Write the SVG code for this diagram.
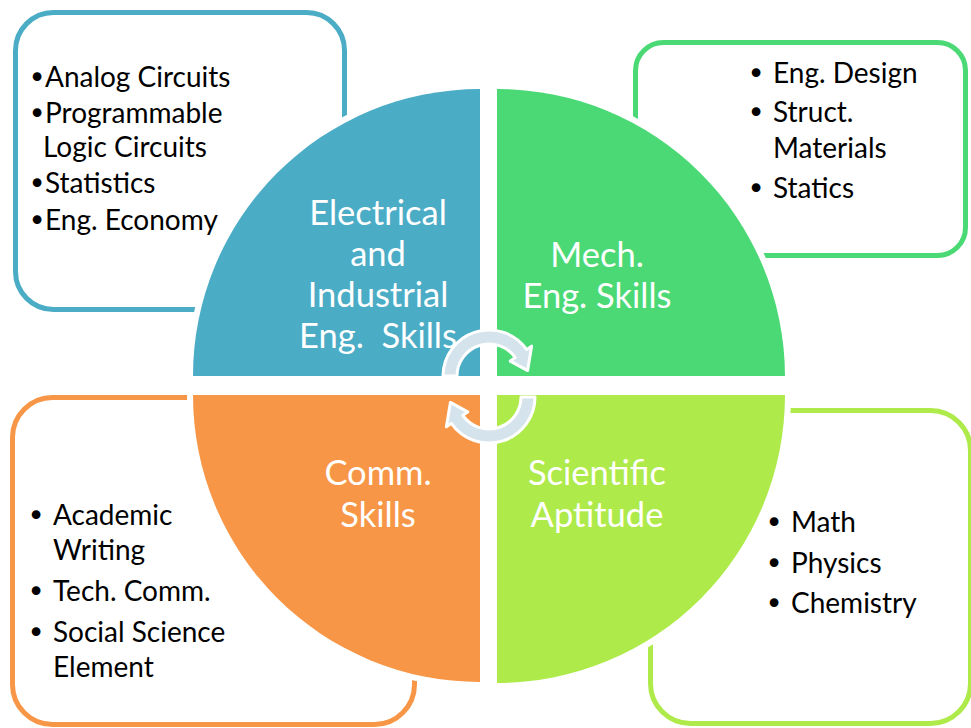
<svg xmlns="http://www.w3.org/2000/svg" width="971" height="728" viewBox="0 0 971 728">
  <style>
    .box { fill: #ffffff; stroke-width: 5; }
    .quad { stroke: #ffffff; stroke-width: 12; paint-order: stroke; stroke-linejoin: round; }
    .item { font-family: Lato, "Open Sans", sans-serif; font-size: 28px; fill: #000000; }
    .dot { font-family: "DejaVu Sans", sans-serif; font-size: 30px; fill: #000000; text-anchor: middle; }
    .title { font-family: Lato, "Open Sans", sans-serif; font-size: 34.5px; fill: #ffffff; text-anchor: middle; }
    .cyc { fill: #d5e3ec; stroke: #ffffff; stroke-width: 3; stroke-linejoin: round; }
  </style>
  <rect x="0" y="0" width="971" height="728" fill="#ffffff"/>

  <!-- detail boxes, drawn behind the circle -->
  <g id="box-electrical">
    <rect class="box" x="15.5" y="12.5" width="329" height="297" rx="38" stroke="#4bacc6"/>
    <text class="dot" x="37" y="88">•</text><text class="item" x="45" y="87">Analog Circuits</text>
    <text class="dot" x="37" y="124">•</text><text class="item" x="45" y="123">Programmable</text>
    <text class="item" x="43" y="157">Logic Circuits</text>
    <text class="dot" x="37" y="194">•</text><text class="item" x="45" y="193">Statistics</text>
    <text class="dot" x="37" y="231">•</text><text class="item" x="45" y="230">Eng. Economy</text>
  </g>
  <g id="box-mech">
    <rect class="box" x="635.5" y="42.5" width="330" height="213" rx="28" stroke="#4bd976"/>
    <text class="dot" x="756" y="84">•</text><text class="item" x="773" y="83">Eng. Design</text>
    <text class="dot" x="756" y="123">•</text><text class="item" x="773" y="122">Struct.</text>
    <text class="item" x="773" y="158">Materials</text>
    <text class="dot" x="756" y="199">•</text><text class="item" x="773" y="198">Statics</text>
  </g>
  <g id="box-comm">
    <rect class="box" x="12.5" y="397.5" width="402" height="327" rx="40" stroke="#f79646"/>
    <text class="dot" x="36" y="526">•</text><text class="item" x="53" y="525">Academic</text>
    <text class="item" x="53" y="560">Writing</text>
    <text class="dot" x="36" y="602">•</text><text class="item" x="53" y="601">Tech. Comm.</text>
    <text class="dot" x="36" y="643">•</text><text class="item" x="53" y="642">Social Science</text>
    <text class="item" x="53" y="677">Element</text>
  </g>
  <g id="box-sci">
    <rect class="box" x="650.5" y="410.5" width="320" height="313" rx="40" stroke="#aeea4a"/>
    <text class="dot" x="774" y="533">•</text><text class="item" x="791" y="532">Math</text>
    <text class="dot" x="774" y="574">•</text><text class="item" x="791" y="573">Physics</text>
    <text class="dot" x="774" y="614">•</text><text class="item" x="791" y="613">Chemistry</text>
  </g>

  <!-- circle quadrants -->
  <g id="quad-electrical">
    <path class="quad" d="M480,376 L193,376 A287,287 0 0 1 480,89 Z" fill="#4bacc6"/>
    <text class="title" x="378" y="225">Electrical</text>
    <text class="title" x="378" y="266">and</text>
    <text class="title" x="378" y="307">Industrial</text>
    <text class="title" x="378" y="348">Eng.&#160; Skills</text>
  </g>
  <g id="quad-mech">
    <path class="quad" d="M497,376 L497,89 A288,288 0 0 1 785,376 Z" fill="#4bd976"/>
    <text class="title" x="597" y="267">Mech.</text>
    <text class="title" x="597" y="308">Eng. Skills</text>
  </g>
  <g id="quad-comm">
    <path class="quad" d="M480,395 L480,682 A287,287 0 0 1 193,395 Z" fill="#f79646"/>
    <text class="title" x="378" y="485">Comm.</text>
    <text class="title" x="378" y="527">Skills</text>
  </g>
  <g id="quad-sci">
    <path class="quad" d="M497,395 L785,395 A288,288 0 0 1 497,683 Z" fill="#aeea4a"/>
    <text class="title" x="597" y="485">Scientific</text>
    <text class="title" x="597" y="527">Aptitude</text>
  </g>

  <!-- cycle arrows in the centre -->
  <g id="connectors">
    <defs>
      <!-- arc band from 180deg clockwise to 325deg, head tip at 352deg; centre at origin -->
      <path id="cycle-arrow" d="M-46,0 A46,46 0 0 1 37.68,-26.39 L42.6,-29.83 L38.62,-5.43 L21.3,-14.91 L26.21,-18.36 A32,32 0 0 0 -32,0 Z"/>
    </defs>
    <use href="#cycle-arrow" class="cyc" transform="translate(489,376)"/>
    <use href="#cycle-arrow" class="cyc" transform="translate(489,397) rotate(180)"/>
  </g>
</svg>
